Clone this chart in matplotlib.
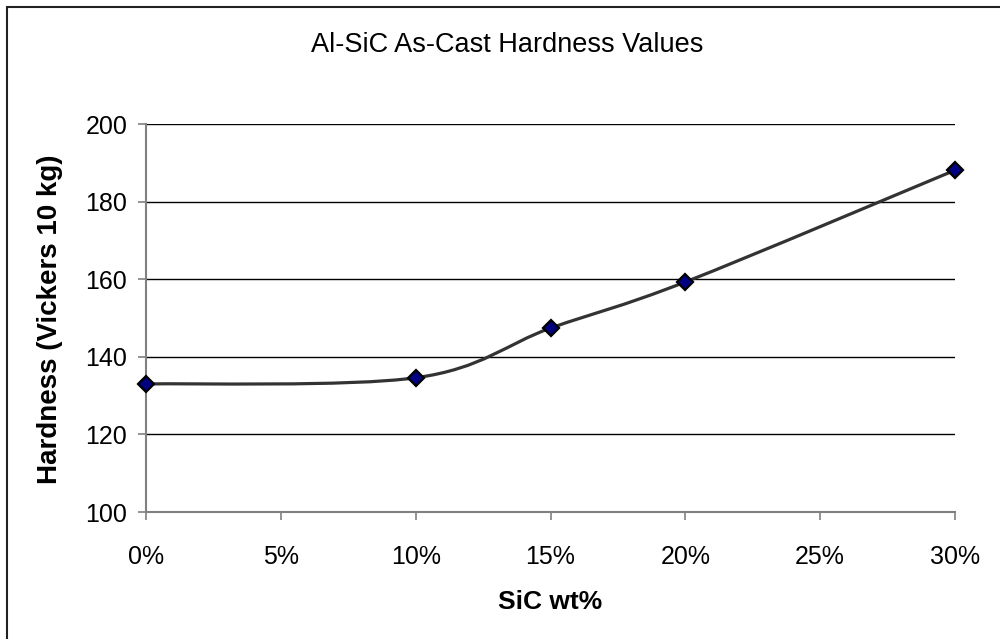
import matplotlib
matplotlib.use("Agg")
import matplotlib.pyplot as plt
from matplotlib.path import Path
from matplotlib.patches import PathPatch, Rectangle
from matplotlib.ticker import FuncFormatter, MultipleLocator
import numpy as np

plt.rcParams['font.family'] = ['Liberation Sans', 'DejaVu Sans']

# SiC content (wt%) and as-cast Vickers hardness (10 kg)
sic_wt = [0, 10, 15, 20, 30]
hardness = [133.0, 134.6, 147.4, 159.3, 188.1]

title = "Al-SiC As-Cast Hardness Values"
x_label = "SiC wt%"
y_label = "Hardness (Vickers 10 kg)"

fig = plt.figure(figsize=(10, 6.39), dpi=100)
ax = fig.add_axes([0.146, 0.1987, 0.809, 0.6072])

# Smoothed line: cubic Bezier segments with Catmull-Rom style tangents
pts = np.column_stack([sic_wt, hardness]).astype(float)
n = len(pts)
verts = [tuple(pts[0])]
codes = [Path.MOVETO]
for i in range(n - 1):
    p0 = pts[i - 1] if i > 0 else pts[i]
    p1 = pts[i]
    p2 = pts[i + 1]
    p3 = pts[i + 2] if i + 2 < n else pts[i + 1]
    c1 = p1 + (p2 - p0) / 6.0
    c2 = p2 - (p3 - p1) / 6.0
    verts += [tuple(c1), tuple(c2), tuple(p2)]
    codes += [Path.CURVE4] * 3
ax.add_patch(PathPatch(Path(verts, codes), facecolor='none',
                       edgecolor='#333333', lw=2.3, zorder=3,
                       capstyle='round', joinstyle='round'))

ax.plot(sic_wt, hardness, linestyle='none', marker='D', markersize=8.5,
        markerfacecolor='#000080', markeredgecolor='black',
        markeredgewidth=1.6, zorder=4, clip_on=False)

ax.set_xlim(0, 30)
ax.set_ylim(100, 200)
ax.xaxis.set_major_locator(MultipleLocator(5))
ax.yaxis.set_major_locator(MultipleLocator(20))
ax.xaxis.set_major_formatter(FuncFormatter(lambda v, p: f"{v:.0f}%"))

ax.grid(axis='y', color='black', lw=1.0)
ax.set_axisbelow(True)
for s in ['top', 'right']:
    ax.spines[s].set_visible(False)
for s in ['left', 'bottom']:
    ax.spines[s].set_color('#808080')
    ax.spines[s].set_linewidth(1.5)

ax.tick_params(axis='both', direction='out', length=5.5, width=1.2,
               color='#808080', labelsize=18, labelcolor='black')
ax.tick_params(axis='y', pad=8)
ax.tick_params(axis='x', pad=18)

ax.set_xlabel(x_label, fontsize=19, fontweight='bold', labelpad=15)
fig.text(0.050, 0.5, y_label, fontsize=20, fontweight='bold',
         rotation=90, ha='center', va='center')
fig.text(0.507, 1 - 52 / 639, title, fontsize=19.5, ha='center',
         va='baseline')

# chart frame
fig.patches.append(Rectangle((0.007, -0.1), 1.2, 1.1 - 7 / 639,
                             transform=fig.transFigure, fill=False,
                             edgecolor='#222222', lw=1.5))

fig.savefig("out.png", dpi=100)
